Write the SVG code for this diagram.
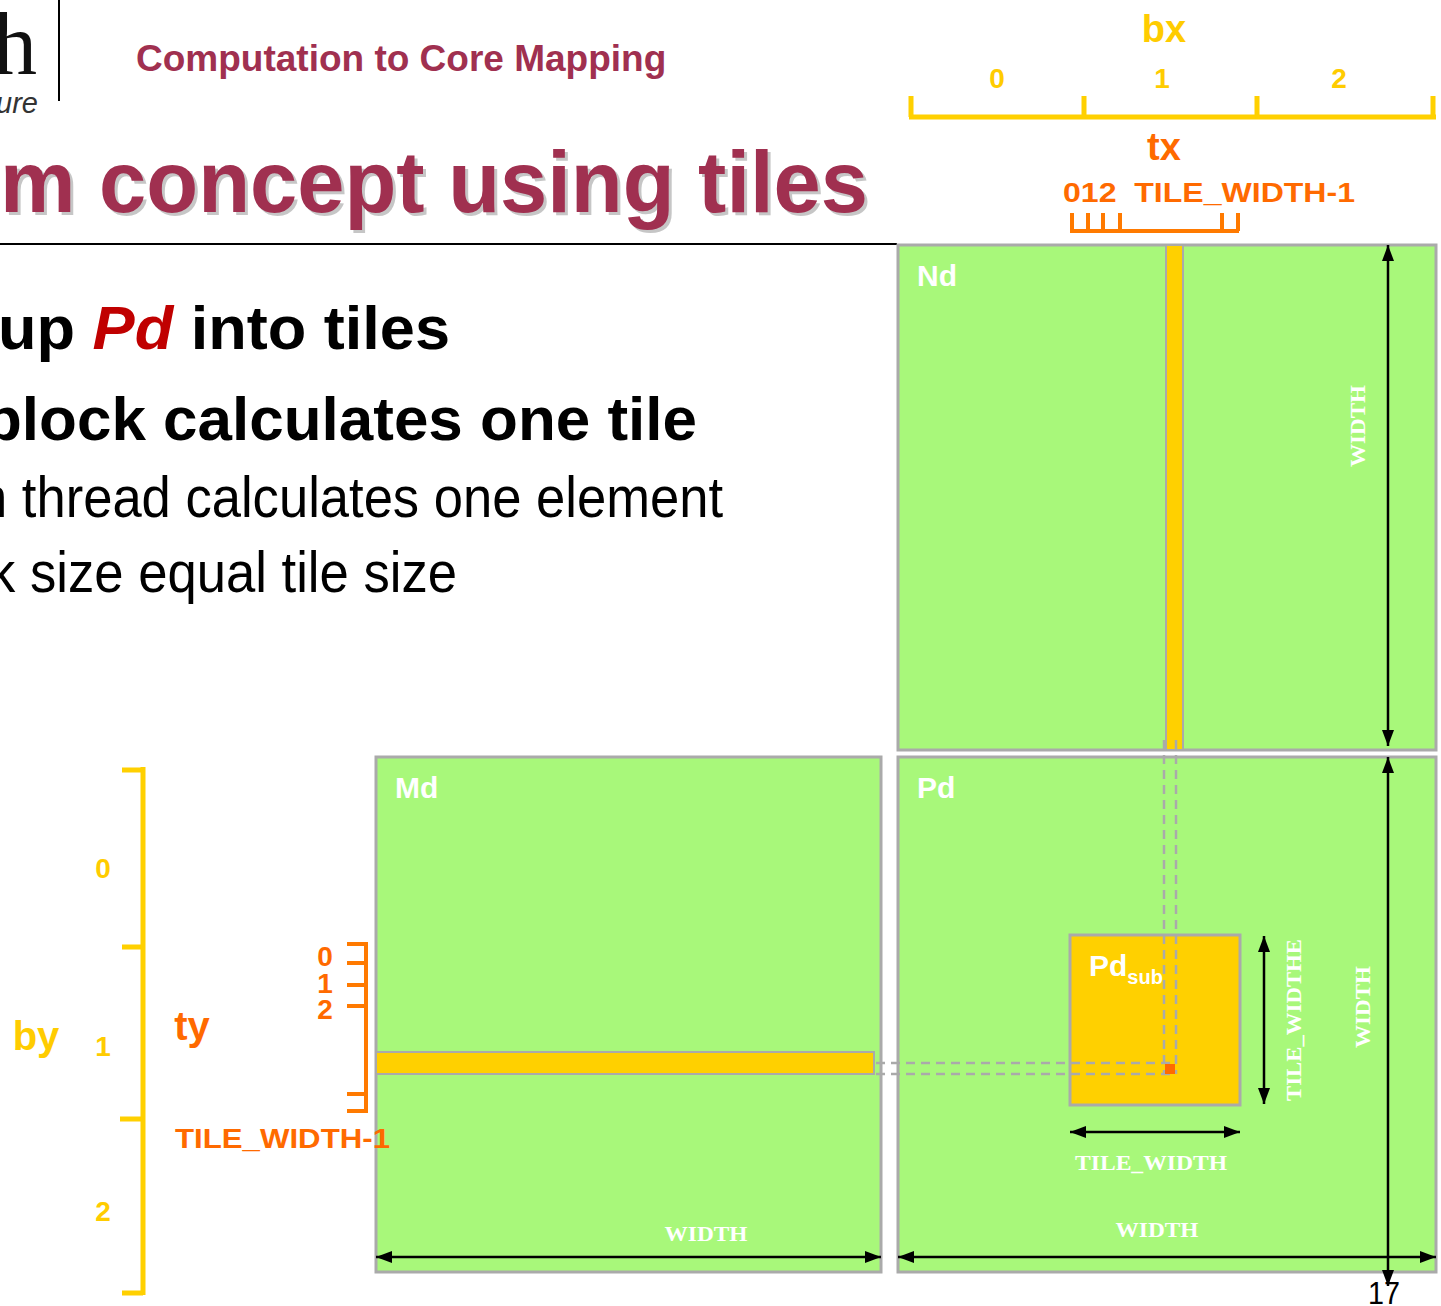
<svg xmlns="http://www.w3.org/2000/svg" width="1441" height="1306" viewBox="0 0 1441 1306">
<defs>
<style>
.sans{font-family:"Liberation Sans",Arial,sans-serif}
.bold{font-weight:bold}
.mat{fill:#A8F87A;stroke:#AAAAAA;stroke-width:3}
.gold{fill:#FFD000;stroke:#AAAAAA;stroke-width:2}
.lbl{font-family:"Liberation Sans",Arial,sans-serif;font-weight:bold;font-size:30px;fill:#FFFFFF}
.dim{font-family:"Liberation Serif","Times New Roman",serif;font-weight:bold;font-size:22px;fill:#FFFFFF}
.arr{stroke:#000;stroke-width:2.5;fill:none;marker-start:url(#ah);marker-end:url(#ah)}
.dash{stroke:#AAAAAA;stroke-width:2.5;stroke-dasharray:9 6;fill:none}
.yax{stroke:#FFD000;stroke-width:5;fill:none}
.oax{stroke:#FF7A00;stroke-width:4;fill:none}
.ytxt{font-family:"Liberation Sans",Arial,sans-serif;font-weight:bold;fill:#FFCC00}
.otxt{font-family:"Liberation Sans",Arial,sans-serif;font-weight:bold;fill:#FF6A00}
</style>
<marker id="ah" viewBox="0 0 16 12" refX="16" refY="6" markerWidth="16" markerHeight="12" orient="auto-start-reverse" markerUnits="userSpaceOnUse">
<path d="M0,0 L16,6 L0,12 z" fill="#000"/>
</marker>
</defs>
<rect width="1441" height="1306" fill="#FFFFFF"/>

<g id="header">
<text x="37" y="74" text-anchor="end" font-family="'Liberation Serif','Times New Roman',serif" font-size="88" fill="#111">h</text>
<text x="38" y="113" text-anchor="end" font-family="'Liberation Sans',Arial,sans-serif" font-style="italic" font-size="29" fill="#333">ure</text>
<line x1="59" y1="0" x2="59" y2="101" stroke="#000" stroke-width="2"/>
<text x="136" y="71" class="sans bold" font-size="37" fill="#A03050">Computation to Core Mapping</text>
<text x="871" y="215" text-anchor="end" class="sans bold" font-size="88" textLength="868" lengthAdjust="spacingAndGlyphs" fill="#999" opacity="0.55">m concept using tiles</text>
<text x="868" y="212" text-anchor="end" class="sans bold" font-size="88" textLength="868" lengthAdjust="spacingAndGlyphs" fill="#A03050">m concept using tiles</text>
<line x1="0" y1="244" x2="897" y2="244" stroke="#000" stroke-width="2"/>
</g>

<g id="bullets">
<text x="450" y="349" text-anchor="end" class="sans bold" font-size="61" textLength="452" lengthAdjust="spacingAndGlyphs" fill="#000">up <tspan fill="#C00000" font-style="italic">Pd</tspan> into tiles</text>
<text x="697" y="440" text-anchor="end" class="sans bold" font-size="61" textLength="713" lengthAdjust="spacingAndGlyphs" fill="#000">block calculates one tile</text>
<text x="723" y="517" text-anchor="end" class="sans" font-size="57" textLength="745" lengthAdjust="spacingAndGlyphs" fill="#000">h thread calculates one element</text>
<text x="457" y="592" text-anchor="end" class="sans" font-size="57" textLength="468" lengthAdjust="spacingAndGlyphs" fill="#000">k size equal tile size</text>
</g>

<g id="bx-axis">
<text x="1164" y="42" text-anchor="middle" class="ytxt" font-size="38">bx</text>
<text x="997" y="88" text-anchor="middle" class="ytxt" font-size="28">0</text>
<text x="1162" y="88" text-anchor="middle" class="ytxt" font-size="28">1</text>
<text x="1339" y="88" text-anchor="middle" class="ytxt" font-size="28">2</text>
<path class="yax" d="M909,117 H1436 M911,96 V117 M1084,96 V117 M1257,96 V117 M1433,96 V117"/>
</g>

<g id="tx-axis">
<text x="1164" y="160" text-anchor="middle" class="otxt" font-size="38">tx</text>
<text x="1063" y="202" class="otxt" font-size="28" textLength="292" lengthAdjust="spacingAndGlyphs" xml:space="preserve">012  TILE_WIDTH-1</text>
<path class="oax" d="M1070,231 H1239 M1072,213 V231 M1088,213 V231 M1103,213 V231 M1120,213 V231 M1222,213 V231 M1238,213 V231"/>
</g>

<g id="by-axis">
<text x="36" y="1050" text-anchor="middle" class="ytxt" font-size="40">by</text>
<text x="103" y="878" text-anchor="middle" class="ytxt" font-size="28">0</text>
<text x="103" y="1056" text-anchor="middle" class="ytxt" font-size="28">1</text>
<text x="103" y="1221" text-anchor="middle" class="ytxt" font-size="28">2</text>
<path class="yax" d="M143,767 V1295 M122,770 H143 M122,947 H143 M120,1119 H143 M122,1293 H143"/>
</g>

<g id="Nd">
<rect class="mat" x="898" y="245" width="538" height="505"/>
<rect class="gold" x="1166" y="245" width="17" height="505"/>
<text class="lbl" x="917" y="286">Nd</text>
<text class="dim" transform="translate(1365,426) rotate(-90)" text-anchor="middle" textLength="82" lengthAdjust="spacingAndGlyphs">WIDTH</text>
</g>

<g id="Md">
<rect class="mat" x="376" y="757" width="505" height="515"/>
<rect class="gold" x="376" y="1052" width="498" height="22"/>
<text class="lbl" x="395" y="798">Md</text>
<text class="dim" x="706" y="1241" text-anchor="middle" textLength="83" lengthAdjust="spacingAndGlyphs">WIDTH</text>
</g>

<g id="ty-axis">
<text x="192" y="1040" text-anchor="middle" class="otxt" font-size="40">ty</text>
<text x="175" y="1148" class="otxt" font-size="28" textLength="215" lengthAdjust="spacingAndGlyphs">TILE_WIDTH-1</text>
<text x="325" y="966" text-anchor="middle" class="otxt" font-size="28">0</text>
<text x="325" y="993" text-anchor="middle" class="otxt" font-size="28">1</text>
<text x="325" y="1019" text-anchor="middle" class="otxt" font-size="28">2</text>
<path class="oax" d="M366,942 V1113 M347,944 H366 M347,963 H366 M347,985 H366 M347,1006 H366 M347,1094 H366 M347,1111 H366"/>
</g>

<g id="Pd">
<rect class="mat" x="898" y="757" width="538" height="515"/>
<text class="lbl" x="917" y="798">Pd</text>
<text class="dim" x="1157" y="1237" text-anchor="middle" textLength="83" lengthAdjust="spacingAndGlyphs">WIDTH</text>
<text class="dim" transform="translate(1370,1007) rotate(-90)" text-anchor="middle" textLength="82" lengthAdjust="spacingAndGlyphs">WIDTH</text>
</g>

<g id="Pdsub">
<rect x="1070" y="935" width="170" height="170" fill="#FFD000" stroke="#AAAAAA" stroke-width="3"/>
<text class="lbl" x="1089" y="976">Pd<tspan font-size="20" dy="8">sub</tspan></text>
<text class="dim" x="1151" y="1170" text-anchor="middle" textLength="152" lengthAdjust="spacingAndGlyphs">TILE_WIDTH</text>
<text class="dim" transform="translate(1301,1020) rotate(-90)" text-anchor="middle" textLength="162" lengthAdjust="spacingAndGlyphs">TILE_WIDTHE</text>
</g>

<g id="connectors">
<path class="dash" d="M1164,740 V1074 M1176,740 V1074 M876,1063 H1176 M876,1074 H1176"/>
<rect x="1165" y="1064" width="10" height="10" fill="#FF6A00"/>
<line class="arr" x1="1388" y1="245" x2="1388" y2="746"/>
<line class="arr" x1="1388" y1="757" x2="1388" y2="1286"/>
<line class="arr" x1="376" y1="1257" x2="881" y2="1257"/>
<line class="arr" x1="898" y1="1257" x2="1436" y2="1257"/>
<line class="arr" x1="1070" y1="1132" x2="1240" y2="1132"/>
<line class="arr" x1="1264" y1="936" x2="1264" y2="1104"/>
</g>

<text x="1384" y="1304" text-anchor="middle" font-family="'Liberation Sans Narrow','Liberation Sans',Arial,sans-serif" font-size="32" textLength="32" lengthAdjust="spacingAndGlyphs" fill="#000">17</text>
</svg>
